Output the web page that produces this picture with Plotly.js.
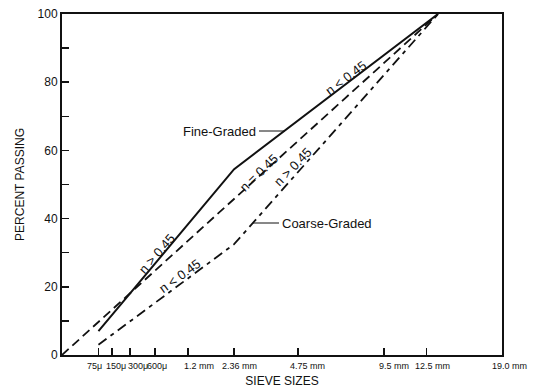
<!DOCTYPE html>
<html>
<head>
<meta charset="utf-8">
<script src="https://cdn.plot.ly/plotly-3.0.1.min.js"></script>
<style>html,body{margin:0;padding:0;background:#fff;}#chart{width:537px;height:388px;}</style>
</head>
<body>
<div id="chart"></div>
<script>
// Sieve sizes (mm) and their tick labels
const sieveSizes  = [0.075, 0.15, 0.3, 0.6, 1.18, 2.36, 4.75, 9.5, 12.5, 19.0];
const sieveLabels = ['75\u03bc', '150\u03bc', '300\u03bc', '600\u03bc', '1.2 mm', '2.36 mm', '4.75 mm', '9.5 mm', '12.5 mm', '19.0 mm'];

// Maximum density line (n = 0.45)
const maxDenSize = [0, 13.4];
const maxDenPass = [0, 100];

// Fine-graded gradation
const fineSize = [0.075, 2.36, 13.4];
const finePass = [7, 54.5, 100];

// Coarse-graded gradation
const coarseSize = [0.075, 2.36, 13.4];
const coarsePass = [3, 32.5, 100];

const yTicks = [0, 20, 40, 60, 80, 100];

// 0.45 power scale
const P = 0.45;
const pw = a => a.map(d => Math.pow(d, P));

// layout-only: pixel shifts of x tick labels
const labelShift = [-4, 4, 8, 2, 11, 5, 10, 10, 6, 7];

const FONT = 'Liberation Sans, Arial, sans-serif';
const L = 62, R = 35, T = 14, B = 33, W = 537, H = 388;
const pwW = W - L - R, pwH = H - T - B;
const px = x => (x - L) / pwW;
const py = y => (H - B - y) / pwH;

const traces = [
  {x: pw(maxDenSize), y: maxDenPass, mode: 'lines', line: {color: '#111', width: 1.8, dash: '9px,5px'}, hoverinfo: 'skip'},
  {x: pw(fineSize), y: finePass, mode: 'lines', line: {color: '#111', width: 2}, hoverinfo: 'skip'},
  {x: pw(coarseSize), y: coarsePass, mode: 'lines', line: {color: '#111', width: 1.8, dash: '10px,5px,4px,5px'}, hoverinfo: 'skip'}
];

const ann = [];
sieveLabels.forEach((t, i) => {
  ann.push({x: Math.pow(sieveSizes[i], P), xref: 'x', y: 0, yref: 'paper', xanchor: 'center', yanchor: 'top', yshift: -4,
    xshift: labelShift[i], text: t, showarrow: false, font: {family: FONT, size: 9, color: '#111'}});
});
const lbl = (t, x, y, ang) => ({x: px(x), y: py(y), xref: 'paper', yref: 'paper', xanchor: 'center', yanchor: 'middle',
  text: t, textangle: ang, showarrow: false, font: {family: FONT, size: 13, color: '#111'}});
ann.push(lbl('n &lt; 0.45', 345, 78, -37));
ann.push(lbl('n = 0.45', 258, 173, -44));
ann.push(lbl('n &gt; 0.45', 292, 167, -46));
ann.push(lbl('n &gt; 0.45', 156, 254, -49));
ann.push(lbl('n &lt; 0.45', 179, 276, -36));
ann.push({x: px(258), y: py(131), xref: 'paper', yref: 'paper', xanchor: 'right', yanchor: 'middle', text: 'Fine-Graded',
  showarrow: false, font: {family: FONT, size: 13, color: '#111'}});
ann.push({x: px(280), y: py(223), xref: 'paper', yref: 'paper', xanchor: 'left', yanchor: 'middle', text: 'Coarse-Graded',
  showarrow: false, font: {family: FONT, size: 13, color: '#111'}});

const shapes = [
  {type: 'line', xref: 'paper', yref: 'paper', x0: px(259), x1: px(285), y0: py(131), y1: py(131), line: {color: '#111', width: 1}},
  {type: 'line', xref: 'paper', yref: 'paper', x0: px(253), x1: px(279), y0: py(223), y1: py(223), line: {color: '#111', width: 1}}
];

const layout = {
  width: W, height: H,
  margin: {l: L, r: R, t: T, b: B},
  paper_bgcolor: '#fff', plot_bgcolor: '#fff',
  showlegend: false,
  xaxis: {
    range: [0, Math.pow(19.0, P)], showgrid: false, zeroline: false,
    showline: true, linecolor: '#111', linewidth: 2, mirror: true,
    tickvals: pw(sieveSizes), ticks: 'inside', ticklen: 7, tickwidth: 1.5, tickcolor: '#111',
    showticklabels: false,
    title: {text: 'SIEVE SIZES', font: {family: FONT, size: 12, color: '#111'}, standoff: 22}
  },
  yaxis: {
    range: [0, 100], showgrid: false, zeroline: false,
    showline: true, linecolor: '#111', linewidth: 2, mirror: true,
    tickvals: yTicks, ticks: 'inside', ticklen: 7, tickwidth: 1.5, tickcolor: '#111',
    minor: {dtick: 10, ticks: 'inside', ticklen: 7, tickwidth: 1.5, tickcolor: '#111'},
    tickfont: {family: FONT, size: 12, color: '#111'},
    title: {text: 'PERCENT PASSING', font: {family: FONT, size: 12, color: '#111'}, standoff: 10}
  },
  annotations: ann,
  shapes: shapes
};

Plotly.newPlot('chart', traces, layout, {staticPlot: true, displayModeBar: false});
</script>
</body>
</html>
